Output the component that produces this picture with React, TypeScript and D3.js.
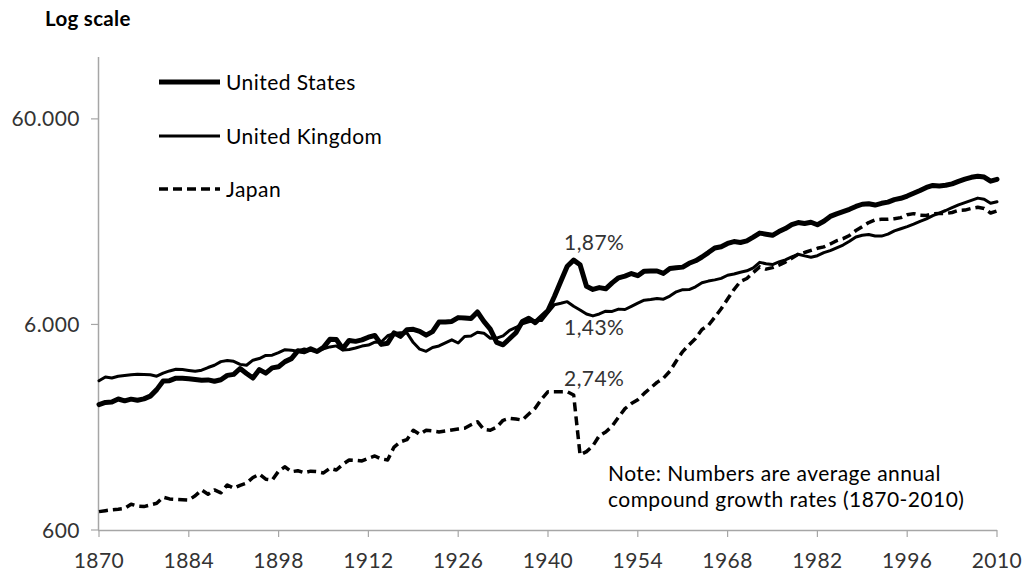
import React from "react";
import * as d3 from "d3";

const START_YEAR = 1870;
const END_YEAR = 2010;
const xTicks = [1870, 1884, 1898, 1912, 1926, 1940, 1954, 1968, 1982, 1996, 2010];
const yTicks = [600, 6000, 60000];
const yTickLabels = ["600", "6.000", "60.000"];

const unitedStates = [
  2445, 2503, 2514, 2603, 2550, 2599, 2568, 2607, 2688, 2891,
  3184, 3196, 3286, 3281, 3262, 3237, 3214, 3224, 3177, 3229,
  3392, 3429, 3663, 3465, 3291, 3620, 3475, 3689, 3737, 3956,
  4091, 4464, 4420, 4563, 4430, 4642, 5079, 5065, 4576, 5017,
  4964, 5046, 5201, 5301, 4799, 4864, 5459, 5248, 5659, 5680,
  5552, 5323, 5540, 6164, 6174, 6205, 6476, 6457, 6412, 6899,
  6213, 5691, 4908, 4777, 5114, 5467, 6204, 6430, 6126, 6561,
  7010, 8206, 9741, 11518, 12333, 11709, 9197, 8886, 9065, 8944,
  9561, 10116, 10316, 10613, 10359, 10897, 10914, 10920, 10631, 11230,
  11328, 11402, 11905, 12242, 12773, 13419, 14134, 14330, 14863, 15179,
  15030, 15304, 15944, 16689, 16491, 16284, 16975, 17567, 18373, 18789,
  18577, 18856, 18325, 19048, 20123, 20717, 21236, 21788, 22499, 23059,
  23201, 22849, 23298, 23616, 24284, 24643, 25283, 26081, 26897, 27826,
  28467, 28325, 28512, 28974, 29786, 30539, 31193, 31570, 31258, 29859,
  30491,
];

const unitedKingdom = [
  3190, 3332, 3295, 3359, 3388, 3413, 3431, 3425, 3412, 3360,
  3477, 3564, 3632, 3624, 3585, 3548, 3594, 3703, 3798, 3956,
  4009, 3969, 3836, 3800, 4021, 4094, 4239, 4254, 4377, 4523,
  4492, 4450, 4561, 4479, 4461, 4568, 4664, 4719, 4504, 4535,
  4611, 4709, 4762, 4921, 4927, 5288, 5416, 5461, 5459, 4897,
  4548, 4439, 4637, 4715, 4884, 5052, 4874, 5244, 5269, 5503,
  5441, 5138, 5148, 5277, 5608, 5799, 6045, 6181, 6266, 6262,
  6856, 7482, 7605, 7744, 7356, 7056, 6746, 6604, 6746, 6956,
  6939, 7123, 7091, 7346, 7619, 7868, 7929, 8017, 7966, 8240,
  8645, 8857, 8865, 9149, 9568, 9752, 9885, 10049, 10410, 10552,
  10767, 10941, 11294, 12025, 11835, 11732, 12087, 12370, 12779, 13167,
  12931, 12747, 12955, 13404, 13725, 14165, 14600, 15231, 15979, 16300,
  16430, 16158, 16140, 16494, 17110, 17532, 17944, 18447, 19022, 19574,
  20300, 20900, 21500, 22200, 22900, 23500, 24100, 24700, 24400, 23300,
  23700,
];

const japan = [
  737, 745, 752, 757, 764, 801, 785, 780, 795, 809,
  866, 850, 846, 843, 840, 880, 940, 896, 940, 910,
  994, 958, 990, 1015, 1080, 1121, 1060, 1050, 1160, 1218,
  1153, 1165, 1140, 1160, 1153, 1137, 1198, 1175, 1250, 1315,
  1310, 1300, 1340, 1375, 1330, 1315, 1520, 1611, 1650, 1834,
  1750, 1834, 1820, 1800, 1820, 1840, 1860, 1875, 1950, 2018,
  1850, 1834, 1900, 2050, 2098, 2080, 2056, 2200, 2346, 2600,
  2824, 2824, 2820, 2822, 2722, 1392, 1444, 1541, 1725, 1800,
  1921, 2126, 2336, 2474, 2582, 2771, 2948, 3136, 3289, 3554,
  3986, 4426, 4777, 5129, 5668, 5934, 6506, 7152, 7983, 8874,
  9714, 10040, 10734, 11434, 11145, 11344, 11669, 12064, 12585, 13163,
  13428, 13754, 14078, 14307, 14773, 15331, 15679, 16251, 17185, 17943,
  18789, 19355, 19482, 19478, 19603, 19849, 20494, 20758, 20410, 20327,
  20738, 20771, 20788, 21029, 21530, 21600, 22000, 22300, 22000, 20900,
  21400,
];

const seriesNames = ["United States", "United Kingdom", "Japan"];
const growthLabels = ["1,87%", "1,43%", "2,74%"];
const noteLines = ["Note: Numbers are average annual", "compound growth rates (1870-2010)"];

const FONT = "Lato, 'Open Sans', sans-serif";

export default function App() {
  const W = 1026;
  const H = 573;
  const x = d3.scaleLinear().domain([START_YEAR, END_YEAR]).range([99, 997]);
  const y = d3.scaleLog().domain([600, 120000]).range([530, 57]);

  const line = d3
    .line<number>()
    .x((_, i) => x(START_YEAR + i))
    .y((d) => y(d))
    .curve(d3.curveLinear);

  const axisColor = "#a6a6a6";
  const textColor = "#333333";
  const FS = 21;
  const LS = 0.45;

  const styles = [
    { w: 5, dash: undefined as string | undefined },
    { w: 3, dash: undefined as string | undefined },
    { w: 3.5, dash: "9,5" },
  ];
  const data = [unitedStates, unitedKingdom, japan];
  const legendY = [82, 136, 189];

  return (
    <svg
      width={W}
      height={H}
      style={{ position: "absolute", left: 0, top: 0, background: "#fff" }}
      fontFamily={FONT}
    >
      <rect x={0} y={0} width={W} height={H} fill="#fff" />
      <text x={45} y={26} fontSize={20.5} fontWeight={700} fill="#000" letterSpacing={0.3}>
        Log scale
      </text>

      {/* axes */}
      <line x1={98.5} x2={98.5} y1={57} y2={530} stroke={axisColor} strokeWidth={1.5} />
      <line x1={98} x2={997} y1={530.5} y2={530.5} stroke={axisColor} strokeWidth={1.5} />
      {yTicks.map((t, i) => (
        <g key={t}>
          <line x1={91} x2={98} y1={y(t)} y2={y(t)} stroke={axisColor} strokeWidth={1.2} />
          <text x={80} y={y(t) + 7.5} textAnchor="end" fontSize={FS} fill={textColor} letterSpacing={LS}>
            {yTickLabels[i]}
          </text>
        </g>
      ))}
      {xTicks.map((t) => (
        <g key={t}>
          <line x1={x(t)} x2={x(t)} y1={530} y2={537} stroke={axisColor} strokeWidth={1.2} />
          <text x={x(t)} y={568} textAnchor="middle" fontSize={FS} fill={textColor} letterSpacing={LS}>
            {t}
          </text>
        </g>
      ))}

      {/* series */}
      {data.map((d, i) => (
        <path
          key={seriesNames[i]}
          d={line(d) || ""}
          fill="none"
          stroke="#000"
          strokeWidth={styles[i].w}
          strokeDasharray={styles[i].dash}
          strokeLinejoin="round"
          strokeLinecap={styles[i].dash ? "butt" : "round"}
        />
      ))}

      {/* legend */}
      {seriesNames.map((n, i) => (
        <g key={n}>
          <line
            x1={159}
            x2={220}
            y1={legendY[i]}
            y2={legendY[i]}
            stroke="#000"
            strokeWidth={styles[i].w}
            strokeDasharray={styles[i].dash}
          />
          <text x={226} y={legendY[i] + 7.5} fontSize={FS} fill="#000" letterSpacing={LS}>
            {n}
          </text>
        </g>
      ))}

      {/* growth annotations */}
      <text x={564} y={250} fontSize={FS} fill={textColor} letterSpacing={LS}>
        {growthLabels[0]}
      </text>
      <text x={564} y={335} fontSize={FS} fill={textColor} letterSpacing={LS}>
        {growthLabels[1]}
      </text>
      <text x={564} y={386} fontSize={FS} fill={textColor} letterSpacing={LS}>
        {growthLabels[2]}
      </text>

      {/* note */}
      {noteLines.map((l, i) => (
        <text key={i} x={608} y={481 + i * 26} fontSize={FS} fill="#000" letterSpacing={LS}>
          {l}
        </text>
      ))}
    </svg>
  );
}
